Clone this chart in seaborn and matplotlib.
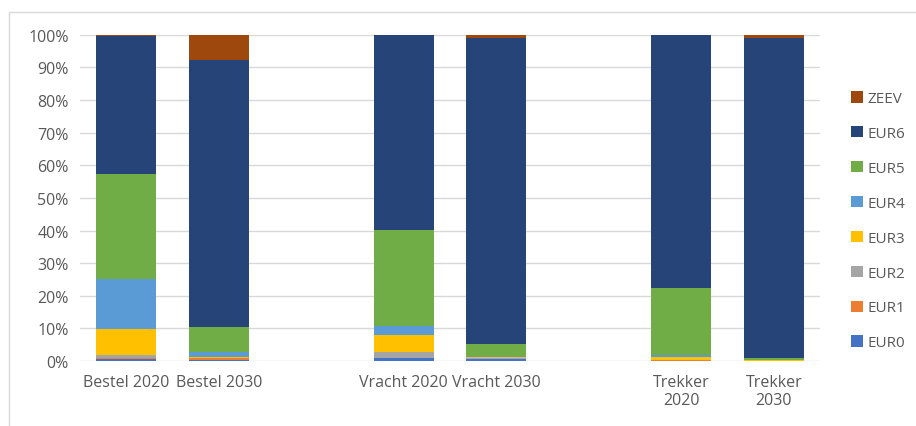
import pandas as pd
import matplotlib.pyplot as plt
import seaborn as sns
from matplotlib.lines import Line2D

# Vehicle categories (blank slots keep the gaps between groups)
categories = ["Bestel 2020", "Bestel 2030", " ", "Vracht 2020", "Vracht 2030", "  ",
              "Trekker\n2020", "Trekker\n2030"]
tick_labels = ["Bestel 2020", "Bestel 2030", "", "Vracht 2020", "Vracht 2030", "",
               "Trekker\n2020", "Trekker\n2030"]

# share per emission class (%), bottom to top
eur0 = [0.6, 0.2, 0, 0.8, 0.5, 0, 0.1, 0.1]
eur1 = [0.2, 0.6, 0, 0.2, 0.1, 0, 0.1, 0.0]
eur2 = [1.2, 0.1, 0, 1.7, 0.3, 0, 0.1, 0.0]
eur3 = [7.8, 0.5, 0, 5.3, 0.4, 0, 1.0, 0.1]
eur4 = [15.3, 1.5, 0, 2.8, 0.2, 0, 0.7, 0.0]
eur5 = [32.2, 7.5, 0, 29.5, 3.7, 0, 20.3, 0.8]
eur6 = [42.3, 81.8, 0, 59.7, 93.7, 0, 77.7, 97.9]
zeev = [0.4, 7.8, 0, 0.0, 1.1, 0, 0.0, 1.1]

series = ["EUR0", "EUR1", "EUR2", "EUR3", "EUR4", "EUR5", "EUR6", "ZEEV"]
colors = ["#4472C4", "#ED7D31", "#A5A5A5", "#FFC000", "#5B9BD5", "#70AD47", "#264478", "#9E480E"]

df = pd.DataFrame({"cat": categories, "EUR0": eur0, "EUR1": eur1, "EUR2": eur2, "EUR3": eur3,
                   "EUR4": eur4, "EUR5": eur5, "EUR6": eur6, "ZEEV": zeev})
cum = df[series].cumsum(axis=1)

sns.set_style("white")
plt.rcParams["font.family"] = ["Open Sans", "DejaVu Sans"]

fig = plt.figure(figsize=(9.16, 4.27), dpi=100)
ax = fig.add_axes([0.0873, 0.152, 0.808, 0.764])

# draw cumulative totals from the top layer down so the smaller ones sit in front
for name, col in zip(series[::-1], colors[::-1]):
    sns.barplot(x=df["cat"], y=cum[name] / 100, order=categories, color=col,
                width=0.65, label=name, ax=ax, saturation=1, zorder=3,
                linewidth=0, edgecolor=col)

ax.set_ylim(0, 1)
ax.set_yticks([i / 10 for i in range(11)])
ax.set_yticklabels([f"{i*10}%" for i in range(11)])
ax.set_xticks(range(len(categories)))
ax.set_xticklabels(tick_labels)
ax.set_xlabel("")
ax.set_ylabel("")
ax.grid(axis="y", color="#D9D9D9", linewidth=1, zorder=0)
ax.set_axisbelow(True)
for s in ax.spines.values():
    s.set_visible(False)
ax.tick_params(axis="both", length=0, colors="#595959", labelsize=11.5)
ax.tick_params(axis="y", pad=8)
ax.tick_params(axis="x", pad=9)
ax.set_xlim(-0.5, len(categories) - 0.5)

ax.legend(loc="center left", bbox_to_anchor=(1.042, 0.43), frameon=False,
          fontsize=11, labelcolor="#595959", handlelength=0.75, handleheight=0.75,
          handletextpad=0.3, labelspacing=1.3, borderpad=0, borderaxespad=0)

# light chart-area border
fig.add_artist(Line2D([0.0098, 1.0], [0.97, 0.97], color="#D9D9D9", lw=1))
fig.add_artist(Line2D([0.0098, 0.0098], [0.0, 0.97], color="#D9D9D9", lw=1))

fig.savefig("out.png", dpi=100)
